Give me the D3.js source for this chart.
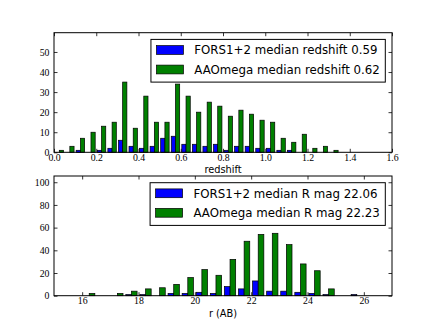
<!DOCTYPE html>
<html>
<head>
<meta charset="utf-8">
<script src="https://cdn.jsdelivr.net/npm/d3@7/dist/d3.min.js"></script>
<style>
  body { margin: 0; background: #fff; }
  svg { display: block; }
  .tick text { font-family: "Liberation Serif", serif; font-size: 9.8px; fill: #000; }
</style>
</head>
<body>
<div id="chart"></div>
<script>
// redshift histogram, bins of 0.05
var zEdges = [0.00, 0.05, 0.10, 0.15, 0.20, 0.25, 0.30, 0.35, 0.40, 0.45, 0.50, 0.55, 0.60, 0.65, 0.70,
              0.75, 0.80, 0.85, 0.90, 0.95, 1.00, 1.05, 1.10, 1.15, 1.20, 1.25, 1.30, 1.35, 1.40, 1.45];
var zFors = [0, 0, 1, 0, 1, 2, 6, 3, 2, 3, 7, 8, 4, 4, 3, 4, 1, 3, 3, 2, 2, 1, 1, 0, 0, 0, 0, 0, 0];
var zAao  = [1, 3, 7, 10, 13, 15, 35, 12, 28, 15, 15, 34, 28, 20, 25, 23, 18, 21, 19, 16, 15, 7, 5, 9, 2, 3, 1, 0, 0];
var zTicks = [0.0, 0.2, 0.4, 0.6, 0.8, 1.0, 1.2, 1.4, 1.6];
var zYTicks = [0, 10, 20, 30, 40, 50];
var zLegend = ["FORS1+2 median redshift 0.59", "AAOmega median redshift 0.62"];

// R magnitude histogram, bins of 0.5
var rEdges = [16.0, 16.5, 17.0, 17.5, 18.0, 18.5, 19.0, 19.5, 20.0, 20.5, 21.0,
              21.5, 22.0, 22.5, 23.0, 23.5, 24.0, 24.5, 25.0, 25.5, 26.0];
var rFors = [0, 0, 0, 1, 1, 0, 2, 2, 3, 2, 8, 6, 13, 4, 4, 3, 2, 1, 0, 1];
var rAao  = [2, 0, 2, 4, 6, 7, 10, 16, 23, 18, 32, 48, 54, 55, 45, 28, 22, 6, 0, 0];
var rTicks = [16, 18, 20, 22, 24, 26];
var rYTicks = [0, 20, 40, 60, 80, 100];
var rLegend = ["FORS1+2 median R mag 22.06", "AAOmega median R mag 22.23"];

var colors = ["#0000ff", "#008000"];

var W = 436, H = 329;
var svg = d3.select("#chart").append("svg").attr("width", W).attr("height", H);

function panel(opt) {
  var left = 54, right = 392, top = opt.top, bottom = opt.bottom;
  var x = d3.scaleLinear().domain(opt.xDomain).range([left, right]);
  var y = d3.scaleLinear().domain(opt.yDomain).range([bottom, top]);
  var g = svg.append("g");

  // bars: two datasets side by side in each bin, 80% of the bin
  var bins = opt.edges.slice(0, -1).map(function(e, i) {
    return { x0: e, x1: opt.edges[i + 1], v: [opt.a[i], opt.b[i]] };
  });
  [0, 1].forEach(function(k) {
    g.append("g").selectAll("rect")
      .data(bins)
      .enter().append("rect")
      .attr("x", function(d) { var w = d.x1 - d.x0; return x(d.x0 + 0.1 * w + k * 0.4 * w); })
      .attr("width", function(d) { var w = d.x1 - d.x0; return x(d.x0 + 0.4 * w) - x(d.x0); })
      .attr("y", function(d) { return y(d.v[k]); })
      .attr("height", function(d) { return y(0) - y(d.v[k]); })
      .style("fill", colors[k])
      .style("stroke", "#000")
      .style("stroke-width", 0.7);
  });

  // axes, ticks pointing inwards on all four sides
  g.append("g").attr("transform", "translate(0," + bottom + ")")
    .call(d3.axisBottom(x).tickValues(opt.xTicks).tickFormat(opt.xFormat).tickSizeInner(-3.5).tickSizeOuter(0).tickPadding(1.4))
    .call(function(s) { s.select(".domain").remove(); });
  g.append("g").attr("transform", "translate(0," + top + ")")
    .call(d3.axisTop(x).tickValues(opt.xTicks).tickFormat("").tickSizeInner(-3.5).tickSizeOuter(0))
    .call(function(s) { s.select(".domain").remove(); });
  g.append("g").attr("transform", "translate(" + left + ",0)")
    .call(d3.axisLeft(y).tickValues(opt.yTicks).tickFormat(d3.format("d")).tickSizeInner(-3.5).tickSizeOuter(0).tickPadding(4.5))
    .call(function(s) { s.select(".domain").remove(); });
  g.append("g").attr("transform", "translate(" + right + ",0)")
    .call(d3.axisRight(y).tickValues(opt.yTicks).tickFormat("").tickSizeInner(-3.5).tickSizeOuter(0))
    .call(function(s) { s.select(".domain").remove(); });
  g.selectAll(".tick line").style("stroke", "#000").style("stroke-width", 0.8);

  g.append("rect")
    .attr("x", left).attr("y", top)
    .attr("width", right - left).attr("height", bottom - top)
    .style("fill", "none").style("stroke", "#000").style("stroke-width", 1);

  g.append("text")
    .attr("x", (left + right) / 2).attr("y", bottom + 21)
    .attr("text-anchor", "middle")
    .style("font-family", "'DejaVu Sans', sans-serif").style("font-size", "9.8px")
    .text(opt.xLabel);

  // legend in the upper right
  var lg = g.append("g");
  var rowY = function(i) { return top + 17.3 + i * 19.5; };
  var texts = opt.legend.map(function(t, i) {
    return lg.append("text")
      .attr("y", rowY(i) + 4.2)
      .style("font-family", "'DejaVu Sans', sans-serif").style("font-size", "11.8px")
      .text(t);
  });
  var tw = d3.max(texts, function(t) { return t.node().getComputedTextLength(); });
  var boxR = right - 6.7, textX = boxR - 5.5 - tw, patchX = textX - 10.8 - 27, boxL = patchX - 5.5;
  texts.forEach(function(t) { t.attr("x", textX); });
  lg.insert("rect", ":first-child")
    .attr("x", boxL).attr("y", top + 6.7)
    .attr("width", boxR - boxL).attr("height", 42.7)
    .style("fill", "#fff").style("stroke", "#000").style("stroke-width", 1);
  colors.forEach(function(c, i) {
    lg.append("rect")
      .attr("x", patchX).attr("y", rowY(i) - 4.4)
      .attr("width", 27).attr("height", 8.8)
      .style("fill", c).style("stroke", "#000").style("stroke-width", 0.7);
  });
}

panel({
  top: 32.7, bottom: 152.3,
  xDomain: [0, 1.6], yDomain: [0, 59.6],
  edges: zEdges, a: zFors, b: zAao,
  xTicks: zTicks, yTicks: zYTicks, xFormat: d3.format(".1f"),
  xLabel: "redshift", legend: zLegend
});

panel({
  top: 176, bottom: 295.7,
  xDomain: [15, 27], yDomain: [0, 105.5],
  edges: rEdges, a: rFors, b: rAao,
  xTicks: rTicks, yTicks: rYTicks, xFormat: d3.format("d"),
  xLabel: "r (AB)", legend: rLegend
});
</script>
</body>
</html>
